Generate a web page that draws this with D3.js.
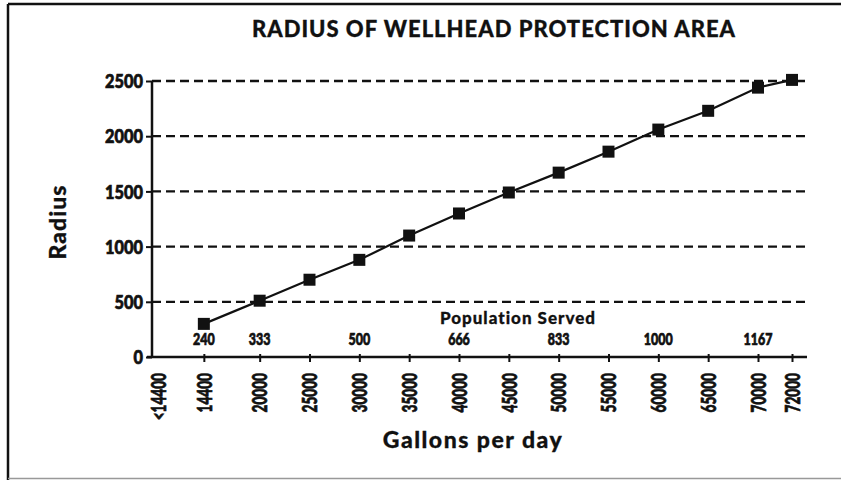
<!DOCTYPE html>
<html>
<head>
<meta charset="utf-8">
<script src="https://cdn.jsdelivr.net/npm/d3@7"></script>
<style>
  html, body { margin: 0; padding: 0; background: #fff; }
  svg { display: block; }
  .narrow { font-family: "Lato", "Open Sans", sans-serif; font-weight: 900; stroke: #111; stroke-width: 0.7px; }
  .gill { font-family: "Lato", "Open Sans", sans-serif; font-weight: 900; stroke: #111; stroke-width: 0.3px; }
</style>
</head>
<body>
<script>
// ---- data ----
const gallonLabels = ["<14400", "14400", "20000", "25000", "30000", "35000", "40000", "45000", "50000", "55000", "60000", "65000", "70000", "72000"];
const gallons = [14400, 20000, 25000, 30000, 35000, 40000, 45000, 50000, 55000, 60000, 65000, 70000, 72000];
const radius = [300, 510, 700, 880, 1100, 1300, 1490, 1670, 1860, 2060, 2230, 2440, 2510];
const popGallons = [14400, 20000, 30000, 40000, 50000, 60000, 70000];
const popLabels = ["240", "333", "500", "666", "833", "1000", "1167"];
const yTicks = [0, 500, 1000, 1500, 2000, 2500];
const lowestLabelValue = 9800; // position of the "<14400" category

const W = 841, H = 480;
const svg = d3.select("body").append("svg").attr("width", W).attr("height", H);

// frame
svg.append("line").attr("x1", 8).attr("x2", W).attr("y1", 4).attr("y2", 4).attr("stroke", "#111").attr("stroke-width", 2.5);
svg.append("line").attr("x1", 8).attr("x2", 8).attr("y1", 4).attr("y2", H).attr("stroke", "#111").attr("stroke-width", 2.5);
svg.append("line").attr("x1", 8).attr("x2", W).attr("y1", 478.5).attr("y2", 478.5).attr("stroke", "#999").attr("stroke-width", 1.5);

const axisLeft = 152, axisRight = 807;
const x = d3.scaleLinear().domain([lowestLabelValue, 70000, 72000]).range([158, 758, 792]);
const y = d3.scaleLinear().domain([0, 2500]).range([357, 81]);

// gridlines
svg.append("g").selectAll("line").data(yTicks.filter(d => d > 0)).join("line")
  .attr("x1", axisLeft).attr("x2", axisRight)
  .attr("y1", d => y(d)).attr("y2", d => y(d))
  .attr("stroke", "#111").attr("stroke-width", 2.3).attr("stroke-dasharray", "9,5");

// y axis
const yAxis = d3.axisLeft(y).tickValues(yTicks).tickSize(6).tickFormat(d3.format("d"));
const gy = svg.append("g").attr("transform", `translate(${axisLeft},0)`).call(yAxis);
gy.select(".domain").attr("stroke", "#111").attr("stroke-width", 2.5).attr("d", `M0,${y(2500)}V${y(0)}`);
gy.selectAll(".tick line").attr("stroke", "#111").attr("stroke-width", 2);
gy.selectAll(".tick text").attr("class", "narrow").attr("font-size", 19).attr("fill", "#111")
  .attr("x", null).attr("text-anchor", "end").attr("dy", "0.35em")
  .attr("transform", "translate(-9,0) scale(0.86,1)");

// x axis
const xTickVals = [lowestLabelValue].concat(gallons);
const xAxis = d3.axisBottom(x).tickValues(xTickVals).tickSize(5).tickFormat((d, i) => gallonLabels[i]);
const gx = svg.append("g").attr("transform", `translate(0,${y(0)})`).call(xAxis);
gx.select(".domain").attr("stroke", "#111").attr("stroke-width", 2.5).attr("d", `M${axisLeft - 5},0H${axisRight}`);
gx.selectAll(".tick line").attr("stroke", "#111").attr("stroke-width", 2).attr("y1", -3)
  .style("display", (d, i) => i === 0 ? "none" : null);
gx.selectAll(".tick text")
  .attr("class", "narrow").attr("font-size", 20).attr("fill", "#111")
  .attr("text-anchor", "end").attr("dy", "0.36em").attr("y", 0)
  .attr("transform", "translate(0,16) rotate(-90) scale(0.68,1)");

// line + markers
const pts = gallons.map((g, i) => [g, radius[i]]);
svg.append("path").datum(pts)
  .attr("fill", "none").attr("stroke", "#111").attr("stroke-width", 2.2)
  .attr("d", d3.line().x(d => x(d[0])).y(d => y(d[1])));
const ms = 12;
svg.append("g").selectAll("rect").data(pts).join("rect")
  .attr("x", d => x(d[0]) - ms / 2).attr("y", d => y(d[1]) - ms / 2)
  .attr("width", ms).attr("height", ms).attr("fill", "#111");

// population served
svg.append("text").attr("class", "gill").attr("x", 518).attr("y", 324)
  .attr("text-anchor", "middle").attr("font-size", 17).attr("letter-spacing", 1).attr("fill", "#111").text("Population Served");
svg.append("g").selectAll("text").data(popGallons).join("text")
  .attr("class", "narrow").attr("font-size", 16).attr("fill", "#111")
  .attr("text-anchor", "middle")
  .attr("transform", d => `translate(${x(d)},345) scale(0.78,1)`)
  .text((d, i) => popLabels[i]);

// titles
svg.append("text").attr("class", "gill").attr("x", 494).attr("y", 37)
  .attr("text-anchor", "middle").attr("font-size", 22).attr("letter-spacing", 1).attr("fill", "#111")
  .text("RADIUS OF WELLHEAD PROTECTION AREA");
svg.append("text").attr("class", "gill").attr("x", 473).attr("y", 448)
  .attr("text-anchor", "middle").attr("font-size", 23).attr("letter-spacing", 1.5).attr("fill", "#111")
  .text("Gallons per day");
svg.append("text").attr("class", "gill")
  .attr("transform", "translate(66,222) rotate(-90)")
  .attr("text-anchor", "middle").attr("font-size", 23).attr("letter-spacing", 1).attr("fill", "#111")
  .text("Radius");
</script>
</body>
</html>
